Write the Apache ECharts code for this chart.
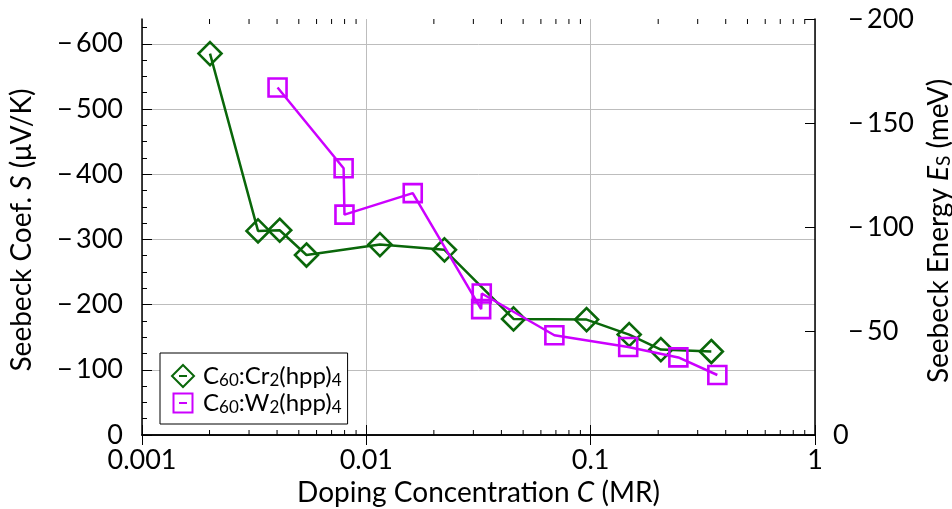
<!DOCTYPE html>
<html>
<head>
<meta charset="utf-8">
<script src="https://cdn.jsdelivr.net/npm/echarts@6/dist/echarts.min.js"></script>
<style>
html, body { margin: 0; padding: 0; background: #fff; }
#chart { width: 952px; height: 509px; }
</style>
</head>
<body>
<div id="chart"></div>
<script>
// Doping concentration (molar ratio) and Seebeck coefficient (µV/K)
const concCr = [0.00201, 0.00329, 0.00411, 0.00541, 0.0115, 0.0223, 0.0453, 0.0959, 0.1485, 0.2056, 0.345];
const seebeckCr = [-585, -313, -314, -276, -292, -284, -178, -177, -154, -131, -128];
const concW = [0.00402, 0.00792, 0.00799, 0.0161, 0.0325, 0.0327, 0.0689, 0.147, 0.246, 0.367];
const seebeckW = [-533, -409, -338, -371, -193, -217, -153, -135, -119, -92];

const seriesNames = ['C60:Cr2(hpp)4', 'C60:W2(hpp)4'];
const legendRichText = {
  'C60:Cr2(hpp)4': '{n|C}{s|60}{n|:Cr}{s|2}{n|(hpp)}{s|4}',
  'C60:W2(hpp)4': '{n|C}{s|60}{n|:W}{s|2}{n|(hpp)}{s|4}'
};

// Axis ticks
const xTickLabels = ['0.001', '0.01', '0.1', '1'];
const xMinorTicks = [0.002, 0.003, 0.004, 0.005, 0.006, 0.007, 0.008, 0.009,
                     0.02, 0.03, 0.04, 0.05, 0.06, 0.07, 0.08, 0.09,
                     0.2, 0.3, 0.4, 0.5, 0.6, 0.7, 0.8, 0.9];
const sTicks = [0, -100, -200, -300, -400, -500, -600];
const sMinorTicks = [-25, -50, -75, -125, -150, -175, -225, -250, -275, -325, -350, -375,
                     -425, -450, -475, -525, -550, -575, -625];
const sMin = -638;
const eMin = -200;

const GREEN = '#0a670a';
const PURPLE = '#cc00ff';
const FONT = 'Lato';

function minusLabel(v) {
  return v === 0 ? '0' : '\u2212\u2009' + Math.abs(v);
}

const chart = echarts.init(document.getElementById('chart'), null, { renderer: 'canvas' });

const nameRich = {
  n: { fontFamily: FONT, fontSize: 28, color: '#000' },
  i: { fontFamily: FONT, fontSize: 28, color: '#000', fontStyle: 'italic' },
  s: { fontFamily: FONT, fontSize: 19, color: '#000', verticalAlign: 'bottom', lineHeight: 19 }
};

const option = {
  animation: false,
  backgroundColor: '#fff',
  grid: { left: 142, right: 137, top: 19, bottom: 74, containLabel: false, outerBoundsMode: 'none' },
  legend: {
    left: 160, top: 353,
    orient: 'vertical',
    backgroundColor: '#fff',
    borderColor: '#000', borderWidth: 1, borderRadius: 0,
    padding: [10, 6, 8, 10],
    itemGap: 1,
    itemWidth: 24, itemHeight: 24,
    selectedMode: false,
    data: [
      { name: seriesNames[0], icon: 'path://M0,0 M24,24 M12,1 L23,12 L12,23 L1,12 Z M8,12 L16,12' },
      { name: seriesNames[1], icon: 'path://M0,0 M24,24 M2.5,2.5 L21.5,2.5 L21.5,21.5 L2.5,21.5 Z M8,12 L16,12' }
    ],
    formatter: name => legendRichText[name],
    textStyle: {
      color: '#000', fontFamily: FONT, fontSize: 24, padding: [0, 0, 0, 3],
      rich: {
        n: { fontFamily: FONT, fontSize: 24, color: '#000', lineHeight: 26 },
        s: { fontFamily: FONT, fontSize: 17, color: '#000', verticalAlign: 'bottom', lineHeight: 15 }
      }
    }
  },
  xAxis: [
    {
      type: 'log', logBase: 10, min: 0.001, max: 1, position: 'bottom',
      name: '{n|Doping Concentration }{i|C}{n| (MR)}',
      nameLocation: 'middle', nameGap: 41,
      nameTextStyle: { rich: nameRich },
      axisLine: { show: true, lineStyle: { color: '#000', width: 1.5 } },
      axisTick: { show: true, inside: true, length: 10, lineStyle: { color: '#000', width: 1 } },
      axisLabel: {
        show: true, margin: 12, color: '#000', fontFamily: FONT, fontSize: 27,
        formatter: v => xTickLabels[Math.round(Math.log10(v)) + 3]
      },
      splitLine: { show: true, lineStyle: { color: '#bdbdbd', width: 1 } },
      minorTick: { show: false }
    },
    {
      type: 'log', logBase: 10, min: 0.001, max: 1, position: 'top',
      axisLine: { show: true, lineStyle: { color: '#000', width: 1.5 } },
      axisTick: { show: true, inside: true, length: 10, lineStyle: { color: '#000', width: 1 } },
      axisLabel: { show: false },
      splitLine: { show: false }
    }
  ],
  yAxis: [
    {
      type: 'value', position: 'left', min: sMin, max: 0, inverse: true,
      name: '{n|Seebeck Coef. }{i|S}{n| (\u03bcV/K)}',
      nameLocation: 'middle', nameGap: 106, nameRotate: 90,
      nameTextStyle: { rich: nameRich, padding: [0, 6, 0, 0] },
      axisLine: { show: true, lineStyle: { color: '#000', width: 1.5 } },
      axisTick: { show: true, inside: true, length: 10, customValues: sTicks, lineStyle: { color: '#000', width: 1 } },
      axisLabel: {
        show: true, margin: 19, color: '#000', fontFamily: FONT, fontSize: 27,
        customValues: sTicks, formatter: minusLabel
      },
      splitLine: { show: true, lineStyle: { color: '#bdbdbd', width: 1 } }
    },
    {
      type: 'value', position: 'right', min: eMin, max: 0, interval: 50, inverse: true,
      name: '{n|Seebeck Energy }{i|E}{s|S}{n| (meV)}',
      nameLocation: 'middle', nameGap: 100, nameRotate: 90,
      nameTextStyle: { rich: nameRich, padding: [0, 8, 0, 0] },
      axisLine: { show: true, lineStyle: { color: '#000', width: 1.5 } },
      axisTick: { show: true, inside: true, length: 10, lineStyle: { color: '#000', width: 1 } },
      axisLabel: {
        show: true, margin: 18, color: '#000', fontFamily: FONT, fontSize: 27, align: 'left',
        formatter: v => v === 0 ? '{z|0}' : '{m|' + minusLabel(v) + '}',
        rich: {
          z: { fontFamily: FONT, fontSize: 27, color: '#000' },
          m: { fontFamily: FONT, fontSize: 27, color: '#000', padding: [0, 0, 0, 15] }
        }
      },
      splitLine: { show: false }
    },
    {
      type: 'value', position: 'left', min: sMin, max: 0, inverse: true,
      axisLine: { show: false },
      axisTick: { show: true, inside: true, length: 5, customValues: sMinorTicks, lineStyle: { color: '#000', width: 1 } },
      axisLabel: { show: false },
      splitLine: { show: false }
    }
  ],
  series: [
    {
      // minor ticks of the logarithmic concentration axis, top and bottom
      type: 'custom',
      xAxisIndex: 0, yAxisIndex: 0,
      silent: true,
      z: 1,
      data: xMinorTicks.map(v => [v, 0]),
      renderItem: function (params, api) {
        const x = api.coord([api.value(0), 0])[0];
        const cs = params.coordSys;
        const yb = cs.y + cs.height;
        return {
          type: 'group',
          children: [
            { type: 'line', shape: { x1: x, y1: yb, x2: x, y2: yb - 5 }, style: { stroke: '#000', lineWidth: 1 } },
            { type: 'line', shape: { x1: x, y1: cs.y, x2: x, y2: cs.y + 5 }, style: { stroke: '#000', lineWidth: 1 } }
          ]
        };
      }
    },
    {
      name: seriesNames[0],
      type: 'line',
      xAxisIndex: 0, yAxisIndex: 0,
      data: concCr.map((c, i) => [c, seebeckCr[i]]),
      symbol: 'diamond', symbolSize: 23,
      lineStyle: { color: GREEN, width: 2.5 },
      itemStyle: { color: 'rgba(0,0,0,0)', borderColor: GREEN, borderWidth: 2.6 },
      z: 3
    },
    {
      name: seriesNames[1],
      type: 'line',
      xAxisIndex: 0, yAxisIndex: 0,
      data: concW.map((c, i) => [c, seebeckW[i]]),
      symbol: 'rect', symbolSize: 18,
      lineStyle: { color: PURPLE, width: 2.5 },
      itemStyle: { color: 'rgba(0,0,0,0)', borderColor: PURPLE, borderWidth: 2.6 },
      z: 4
    }
  ]
};

chart.setOption(option);
</script>
</body>
</html>
